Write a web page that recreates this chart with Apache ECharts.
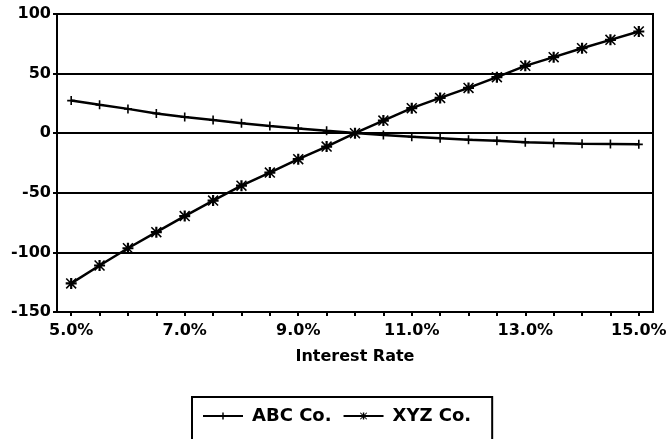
<!DOCTYPE html>
<html>
<head>
<meta charset="utf-8">
<script src="https://cdn.jsdelivr.net/npm/echarts@6/dist/echarts.min.js"></script>
<style>
html,body{margin:0;padding:0;background:#fff;}
#chart{width:670px;height:439px;}
</style>
</head>
<body>
<div id="chart"></div>
<script>
const rates = ["5.0%","5.5%","6.0%","6.5%","7.0%","7.5%","8.0%","8.5%","9.0%","9.5%","10.0%","10.5%","11.0%","11.5%","12.0%","12.5%","13.0%","13.5%","14.0%","14.5%","15.0%"];
const abcValues = [27.4, 23.8, 20.4, 16.6, 13.6, 11.0, 8.4, 6.1, 4.0, 2.0, 0.2, -1.5, -2.9, -4.2, -5.4, -6.3, -7.6, -8.3, -8.9, -9.1, -9.3];
const xyzValues = [-126, -111, -96.5, -83, -69.5, -56.5, -44, -33, -21.8, -11.2, 0, 10.6, 21, 29.6, 38, 47, 56.5, 63.8, 71.3, 78.3, 85.3];
const yTicks = {min: -150, max: 100, step: 50};
const seriesNames = ["ABC Co.", "XYZ Co."];
const xTitle = "Interest Rate";

const plusSymbol = 'path://M4,0h2v4h4v2h-4v4h-2v-4h-4v-2h4z';
const starSymbol = 'path://M0,4h10v2h-10z M4,0h2v10h-2z M0,1L1,0L10,9L9,10z M9,0L10,1L1,10L0,9z';
const FONT = 'DejaVu Sans';

const chart = echarts.init(document.getElementById('chart'), null, {renderer: 'canvas'});
chart.setOption({
  animation: false,
  backgroundColor: '#ffffff',
  textStyle: {fontFamily: FONT, color: '#000'},
  grid: {left: 57, right: 17, top: 14, bottom: 127, show: true, borderColor: '#000', borderWidth: 2, backgroundColor: 'transparent'},
  xAxis: {
    type: 'category',
    data: rates,
    boundaryGap: true,
    name: xTitle,
    nameLocation: 'middle',
    nameGap: 37,
    nameTextStyle: {fontFamily: FONT, fontWeight: 'bold', fontSize: 16, color: '#000'},
    axisLine: {show: true, onZero: false, lineStyle: {color: '#000', width: 2}},
    axisTick: {show: true, alignWithLabel: true, interval: 0, length: 4, lineStyle: {color: '#000', width: 2}},
    axisLabel: {interval: 3, margin: 11, fontFamily: FONT, fontWeight: 'bold', fontSize: 16, color: '#000'},
    splitLine: {show: false}
  },
  yAxis: {
    type: 'value',
    min: yTicks.min,
    max: yTicks.max,
    interval: yTicks.step,
    axisLine: {show: true, lineStyle: {color: '#000', width: 2}},
    axisTick: {show: true, length: 4, lineStyle: {color: '#000', width: 2}},
    axisLabel: {margin: 6, fontFamily: FONT, fontWeight: 'bold', fontSize: 16, color: '#000'},
    splitLine: {show: true, lineStyle: {color: '#000', width: 2}}
  },
  legend: {
    left: 192,
    top: 397,
    padding: [10, 21, 30, 10],
    borderColor: '#000',
    borderWidth: 2,
    itemWidth: 40,
    itemHeight: 9,
    itemGap: 11,
    textStyle: {fontFamily: FONT, fontWeight: 'bold', fontSize: 18, color: '#000', padding: [0, 0, 0, 4]},
    data: seriesNames
  },
  series: [
    {
      name: seriesNames[0],
      type: 'line',
      data: abcValues,
      symbol: plusSymbol,
      symbolSize: [8, 9],
      lineStyle: {color: '#000', width: 2.5},
      itemStyle: {color: '#000'}
    },
    {
      name: seriesNames[1],
      type: 'line',
      data: xyzValues,
      symbol: starSymbol,
      symbolSize: 11,
      lineStyle: {color: '#000', width: 2.5},
      itemStyle: {color: '#000'}
    }
  ]
});
</script>
</body>
</html>
